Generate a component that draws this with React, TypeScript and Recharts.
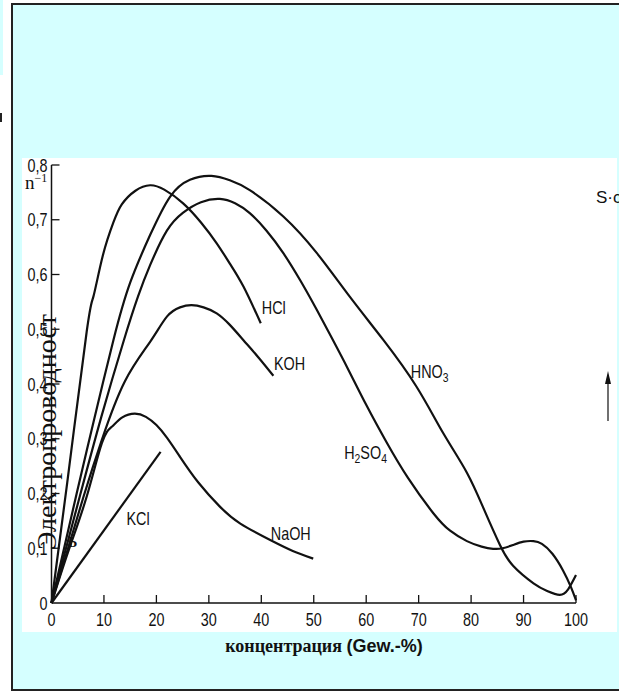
import { LineChart, Line, XAxis, YAxis, ReferenceDot } from 'recharts';

// Leitfähigkeit vs. concentration, pairs of [Gew.-%, S/cm]
const hcl: [number, number][] = [
    [0, 0], [3, 0.22], [6.7, 0.495], [8, 0.56], [9.8, 0.635], [11.8, 0.695], [13.4, 0.728], [16, 0.753],
    [18.8, 0.763], [21.5, 0.755], [25.1, 0.73], [28.5, 0.695], [31.5, 0.657], [34, 0.62], [36.6, 0.578], [39.9, 0.511],
];
const hno3: [number, number][] = [
    [0, 0], [4.8, 0.2], [8, 0.33], [11.8, 0.48], [15, 0.585], [18.8, 0.672], [22.6, 0.742], [26.4, 0.773],
    [30.5, 0.78], [34, 0.772], [37.8, 0.754], [44.2, 0.706], [50.6, 0.639], [56.9, 0.559], [63.3, 0.48],
    [69.6, 0.395], [74.7, 0.31], [79.2, 0.238], [82.5, 0.17], [85.5, 0.106], [88, 0.068], [91.9, 0.036],
    [94.5, 0.022], [96.9, 0.015], [98.5, 0.025], [100, 0.051],
];
const h2so4: [number, number][] = [
    [0, 0], [5.4, 0.195], [9.5, 0.34], [13.8, 0.48], [16.5, 0.56], [18.8, 0.617], [22, 0.68], [25.1, 0.713],
    [28.5, 0.732], [32.1, 0.738], [35, 0.73], [37.8, 0.712], [41, 0.68], [44.2, 0.639], [47.5, 0.588],
    [50.6, 0.535], [53.5, 0.483], [56.5, 0.428], [60, 0.362], [63.8, 0.295], [68, 0.228], [72.8, 0.164],
    [76, 0.132], [79.2, 0.113], [82, 0.103], [84.2, 0.099], [86, 0.1], [88, 0.106], [90, 0.112], [91.9, 0.113],
    [93.5, 0.108], [95.5, 0.09], [97.5, 0.06], [99, 0.03], [100, 0.005],
];
const koh: [number, number][] = [
    [0, 0], [3, 0.095], [6.1, 0.194], [9.6, 0.298], [14, 0.405], [18.8, 0.477], [22, 0.523], [24.5, 0.54],
    [26.7, 0.544], [29, 0.54], [31.5, 0.529], [34, 0.508], [36.6, 0.48], [39.5, 0.448], [42.3, 0.415],
];
const naoh: [number, number][] = [
    [0, 0], [3.3, 0.097], [6.7, 0.194], [9.6, 0.292], [11.5, 0.322], [13.5, 0.339], [15.9, 0.346], [18, 0.34],
    [20, 0.325], [22, 0.302], [24.5, 0.267], [28, 0.22], [32.1, 0.176], [36, 0.145], [41.7, 0.115], [46, 0.095], [49.9, 0.081],
];
const kcl: [number, number][] = [[0, 0], [20.8, 0.276]];

const xTicks = [0, 10, 20, 30, 40, 50, 60, 70, 80, 90, 100];
const yTicks = [0, 0.1, 0.2, 0.3, 0.4, 0.5, 0.6, 0.7, 0.8];

const curveLabels = [
    { x: 40.1, y: 0.528, name: 'HCl', sub: '', tail: '', sub2: '' },
    { x: 42.4, y: 0.426, name: 'KOH', sub: '', tail: '', sub2: '' },
    { x: 68.5, y: 0.411, name: 'HNO', sub: '3', tail: '', sub2: '' },
    { x: 55.8, y: 0.263, name: 'H', sub: '2', tail: 'SO', sub2: '4' },
    { x: 41.8, y: 0.115, name: 'NaOH', sub: '', tail: '', sub2: '' },
    { x: 14.3, y: 0.142, name: 'KCl', sub: '', tail: '', sub2: '' },
];

const toData = (pts: [number, number][]) => pts.map(([x, y]) => ({ x, y }));

const sans = "'Liberation Sans', Arial, sans-serif";
const serif = "'Liberation Serif', 'Times New Roman', serif";
const ink = '#111';

function XTick({ x, y, payload }: any) {
    return (
        <g>
            {payload.value > 0 && <line x1={x} y1={y} x2={x} y2={y - 8} stroke={ink} strokeWidth={1.3} />}
            <g transform={`translate(${x},${y + 23}) scale(0.8,1)`}>
                <text textAnchor="middle" fontSize={18} fontFamily={sans} fill={ink}>{payload.value}</text>
            </g>
        </g>
    );
}

function YTick({ x, y, payload }: any) {
    const label = payload.value === 0 ? '0' : payload.value.toFixed(1).replace('.', ',');
    return (
        <g>
            {payload.value > 0 && <line x1={x} y1={y} x2={x + 8} y2={y} stroke={ink} strokeWidth={1.3} />}
            <g transform={`translate(${x - 4},${y + 6.5}) scale(0.8,1)`}>
                <text textAnchor="end" fontSize={18} fontFamily={sans} fill={ink}>{label}</text>
            </g>
        </g>
    );
}

function CurveLabel(lbl: any) {
    return ({ cx, cy }: any) => (
        <g transform={`translate(${cx},${cy}) scale(0.8,1)`}>
            <text fontSize={18} fontFamily={sans} fill={ink}>
                {lbl.name}
                {lbl.sub && <tspan dy={4} fontSize={13}>{lbl.sub}</tspan>}
                {lbl.tail && <tspan dy={-4}>{lbl.tail}</tspan>}
                {lbl.sub2 && <tspan dy={4} fontSize={13}>{lbl.sub2}</tspan>}
            </text>
        </g>
    );
}

const series = [hcl, hno3, h2so4, koh, naoh, kcl];

export default function App() {
    return (
        <div style={{ position: 'absolute', left: 0, top: 0, width: 619, height: 698, background: '#fff', overflow: 'hidden' }}>
            <div style={{ position: 'absolute', left: 0, top: 0, width: 3, height: 75, background: '#D5FFFF' }} />
            <div style={{ position: 'absolute', left: 0, top: 113, width: 2, height: 9, background: '#222' }} />
            <div
                style={{
                    position: 'absolute', left: 11, top: 3, width: 620, height: 684,
                    borderLeft: '2px solid #222', borderTop: '2px solid #222', borderBottom: '2px solid #222',
                    background: '#D5FFFF',
                }}
            />
            <div style={{ position: 'absolute', left: 22, top: 158, width: 595, height: 474, background: '#fff' }} />
            <div style={{ position: 'absolute', left: 0, top: 0 }}>
                <LineChart width={619} height={698} margin={{ top: 165, right: 43, bottom: 85, left: 41.5 }}>
                    <XAxis
                        type="number"
                        dataKey="x"
                        domain={[0, 100]}
                        ticks={xTicks}
                        height={10}
                        tickSize={0}
                        tickMargin={0}
                        tick={<XTick />}
                        axisLine={{ stroke: ink, strokeWidth: 1.5 }}
                        interval={0}
                    />
                    <YAxis
                        type="number"
                        domain={[0, 0.8]}
                        ticks={yTicks}
                        width={10}
                        tickSize={0}
                        tickMargin={0}
                        tick={<YTick />}
                        axisLine={{ stroke: ink, strokeWidth: 1.5 }}
                        interval={0}
                    />
                    {series.map((s, i) => (
                        <Line
                            key={i}
                            data={toData(s)}
                            dataKey="y"
                            type="natural"
                            stroke={ink}
                            strokeWidth={2.2}
                            dot={false}
                            activeDot={false}
                            isAnimationActive={false}
                        />
                    ))}
                    {curveLabels.map((l) => (
                        <ReferenceDot key={l.name + l.tail} x={l.x} y={l.y} r={0} ifOverflow="visible" shape={CurveLabel(l)} />
                    ))}
                </LineChart>
            </div>
            <svg width={619} height={698} style={{ position: 'absolute', left: 0, top: 0, pointerEvents: 'none' }}>
                <text x={25} y={189} fontSize={19} fontFamily={serif} fill={ink}>
                    n<tspan dy={-7} fontSize={12}>−1</tspan>
                </text>
                <text x={596} y={203} fontSize={17} fontFamily={sans} fill={ink}>S·c</text>
                <line x1={608} y1={421} x2={608} y2={380} stroke={ink} strokeWidth={1.2} />
                <path d="M 605 384 L 608 371 L 611 384 Z" fill={ink} />
                <text x={68} y={547} fontSize={14} fontFamily={serif} fontWeight="bold" fill={ink}>Ь</text>
                <text x={56} y={432} fontSize={28} fontFamily={serif} fill={ink} textAnchor="middle" transform="rotate(-90 56 432)">
                    Электропроводност
                </text>
                <text x={324} y={652} fontSize={18} fontWeight="bold" textAnchor="middle" fill={ink}>
                    <tspan fontFamily={serif}>концентрация </tspan>
                    <tspan fontFamily={sans}>(Gew.-%)</tspan>
                </text>
            </svg>
        </div>
    );
}
